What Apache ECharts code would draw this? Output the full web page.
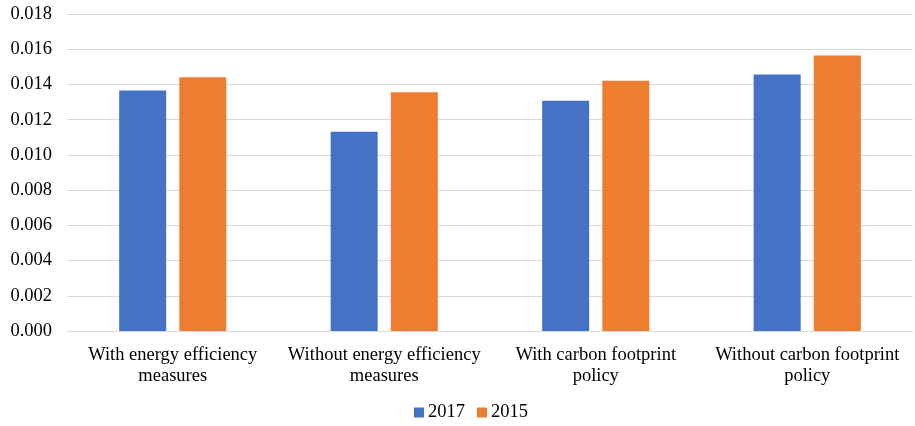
<!DOCTYPE html>
<html>
<head>
<meta charset="utf-8">
<script src="https://cdn.jsdelivr.net/npm/echarts@6/dist/echarts.min.js"></script>
<style>
  html, body { margin: 0; padding: 0; background: #fff; }
  #chart { width: 915px; height: 426px; }
</style>
</head>
<body>
<div id="chart"></div>
<script>
const categories = [
  'With energy efficiency\nmeasures',
  'Without energy efficiency\nmeasures',
  'With carbon footprint\npolicy',
  'Without carbon footprint\npolicy'
];
const values2017 = [0.01366, 0.01132, 0.01307, 0.01457];
const values2015 = [0.01441, 0.01356, 0.01421, 0.01564];

const font = '"Liberation Serif", "Times New Roman", serif';
const fs = 18.5;
const chart = echarts.init(document.getElementById('chart'));
chart.setOption({
  animation: false,
  textStyle: { fontFamily: font },
  grid: { left: 67, right: 2, top: 14, bottom: 95 },
  legend: {
    left: 409,
    bottom: -1,
    itemWidth: 10,
    itemHeight: 10,
    itemGap: 12,
    icon: 'rect',
    textStyle: { fontFamily: font, fontSize: fs, color: '#000', padding: [0, 0, 0, -1] },
    data: ['2017', '2015']
  },
  xAxis: {
    type: 'category',
    data: categories,
    axisTick: { show: false },
    axisLine: { lineStyle: { color: '#d9d9d9', width: 1 } },
    axisLabel: { fontFamily: font, fontSize: fs, color: '#000', lineHeight: 21, margin: 14, interval: 0 }
  },
  yAxis: {
    type: 'value',
    min: 0,
    max: 0.018,
    interval: 0.002,
    axisLabel: {
      fontFamily: font, fontSize: fs, color: '#000', margin: 15,
      formatter: v => v.toFixed(3)
    },
    splitLine: { lineStyle: { color: '#d9d9d9', width: 1 } },
    axisLine: { show: false },
    axisTick: { show: false }
  },
  series: [
    {
      name: '2017', type: 'bar', data: values2017,
      barWidth: 47, barGap: '28%',
      itemStyle: { color: '#4472c4' }
    },
    {
      name: '2015', type: 'bar', data: values2015,
      barWidth: 47,
      itemStyle: { color: '#ed7d31' }
    }
  ]
});
</script>
</body>
</html>
